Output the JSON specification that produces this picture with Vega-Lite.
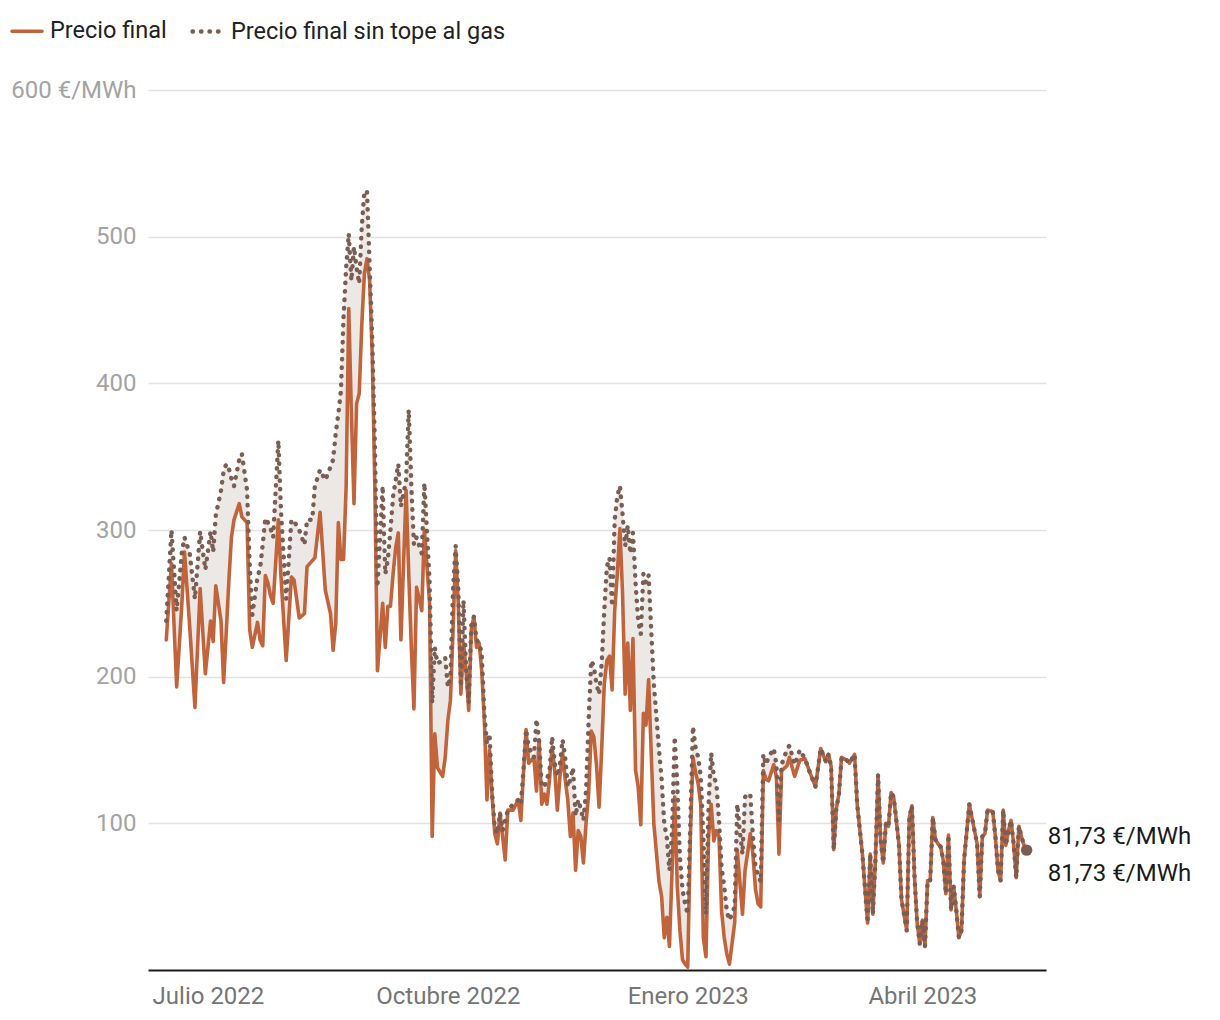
{
  "$schema": "https://vega.github.io/schema/vega-lite/v6.json",
  "autosize": {"type": "none"},
  "padding": {"left": 148, "top": 90, "right": 174, "bottom": 50},
  "width": 898,
  "height": 880,
  "background": "white",
  "config": {"font": "Roboto", "view": {"stroke": null}},
  "data": {"values": [
    {"d":"2022-06-15","f":225,"s":238},{"d":"2022-06-17","f":277,"s":300},{"d":"2022-06-19","f":193,"s":245},{"d":"2022-06-21","f":250,"s":285},{"d":"2022-06-22","f":285,"s":295},{"d":"2022-06-24","f":234,"s":284},{"d":"2022-06-26","f":179,"s":253},{"d":"2022-06-28","f":260,"s":299},{"d":"2022-06-30","f":202,"s":273},
    {"d":"2022-07-02","f":238,"s":299},{"d":"2022-07-03","f":224,"s":285},{"d":"2022-07-04","f":262,"s":310},{"d":"2022-07-06","f":238,"s":327},{"d":"2022-07-07","f":196,"s":340},{"d":"2022-07-08","f":230,"s":345},{"d":"2022-07-09","f":265,"s":342},{"d":"2022-07-10","f":295,"s":335},{"d":"2022-07-11","f":307,"s":330},{"d":"2022-07-13","f":318,"s":348},{"d":"2022-07-14","f":309,"s":352},{"d":"2022-07-16","f":305,"s":327},{"d":"2022-07-17","f":232,"s":277},{"d":"2022-07-18","f":220,"s":242},{"d":"2022-07-20","f":237,"s":268},{"d":"2022-07-21","f":225,"s":274},{"d":"2022-07-22","f":221,"s":290},{"d":"2022-07-23","f":269,"s":308},{"d":"2022-07-24","f":264,"s":305},{"d":"2022-07-25","f":255,"s":301},{"d":"2022-07-26","f":250,"s":295},{"d":"2022-07-28","f":307,"s":361},{"d":"2022-07-29","f":268,"s":313},{"d":"2022-07-31","f":211,"s":253},
    {"d":"2022-08-02","f":268,"s":307},{"d":"2022-08-03","f":266,"s":306},{"d":"2022-08-05","f":240,"s":300},{"d":"2022-08-07","f":243,"s":290},{"d":"2022-08-08","f":275,"s":307},{"d":"2022-08-10","f":279,"s":307},{"d":"2022-08-11","f":281,"s":330},{"d":"2022-08-13","f":312,"s":341},{"d":"2022-08-15","f":259,"s":334},{"d":"2022-08-17","f":243,"s":343},{"d":"2022-08-18","f":218,"s":348},{"d":"2022-08-19","f":236,"s":366},{"d":"2022-08-20","f":305,"s":379},{"d":"2022-08-21","f":280,"s":395},{"d":"2022-08-22","f":280,"s":445},{"d":"2022-08-23","f":330,"s":479},{"d":"2022-08-24","f":451,"s":502},{"d":"2022-08-25","f":380,"s":470},{"d":"2022-08-26","f":318,"s":493},{"d":"2022-08-27","f":386,"s":479},{"d":"2022-08-28","f":393,"s":468},{"d":"2022-08-29","f":440,"s":507},{"d":"2022-08-30","f":475,"s":531},{"d":"2022-08-31","f":485,"s":531},
    {"d":"2022-09-01","f":470,"s":480},{"d":"2022-09-02","f":420,"s":430},{"d":"2022-09-03","f":330,"s":360},{"d":"2022-09-04","f":204,"s":261},{"d":"2022-09-06","f":250,"s":330},{"d":"2022-09-07","f":220,"s":270},{"d":"2022-09-08","f":248,"s":280},{"d":"2022-09-09","f":248,"s":300},{"d":"2022-09-10","f":270,"s":323},{"d":"2022-09-11","f":288,"s":334},{"d":"2022-09-12","f":298,"s":345},{"d":"2022-09-13","f":225,"s":316},{"d":"2022-09-15","f":327,"s":334},{"d":"2022-09-16","f":270,"s":382},{"d":"2022-09-17","f":220,"s":330},{"d":"2022-09-18","f":178,"s":290},{"d":"2022-09-19","f":261,"s":295},{"d":"2022-09-21","f":245,"s":284},{"d":"2022-09-22","f":300,"s":332},{"d":"2022-09-24","f":250,"s":265},{"d":"2022-09-25","f":91,"s":182},{"d":"2022-09-26","f":161,"s":220},{"d":"2022-09-27","f":138,"s":209},{"d":"2022-09-29","f":132,"s":211},{"d":"2022-09-30","f":145,"s":213},
    {"d":"2022-10-01","f":170,"s":193},{"d":"2022-10-02","f":184,"s":200},{"d":"2022-10-03","f":232,"s":260},{"d":"2022-10-04","f":286,"s":289},{"d":"2022-10-05","f":250,"s":260},{"d":"2022-10-06","f":188,"s":193},{"d":"2022-10-07","f":223,"s":252},{"d":"2022-10-08","f":204,"s":205},{"d":"2022-10-09","f":177,"s":182},{"d":"2022-10-10","f":232,"s":235},{"d":"2022-10-11","f":241,"s":241},{"d":"2022-10-12","f":220,"s":225},{"d":"2022-10-13","f":223,"s":223},{"d":"2022-10-14","f":204,"s":216},{"d":"2022-10-15","f":170,"s":175},{"d":"2022-10-16","f":116,"s":154},{"d":"2022-10-17","f":150,"s":161},{"d":"2022-10-18","f":118,"s":120},{"d":"2022-10-19","f":93,"s":97},{"d":"2022-10-20","f":86,"s":93},{"d":"2022-10-21","f":107,"s":107},{"d":"2022-10-22","f":91,"s":95},{"d":"2022-10-23","f":75,"s":102},{"d":"2022-10-24","f":109,"s":109},{"d":"2022-10-26","f":109,"s":113},{"d":"2022-10-28","f":116,"s":116},{"d":"2022-10-29","f":102,"s":113},{"d":"2022-10-30","f":134,"s":136},{"d":"2022-10-31","f":164,"s":164},
    {"d":"2022-11-01","f":141,"s":152},{"d":"2022-11-03","f":145,"s":145},{"d":"2022-11-04","f":122,"s":171},{"d":"2022-11-05","f":157,"s":157},{"d":"2022-11-06","f":113,"s":125},{"d":"2022-11-07","f":120,"s":125},{"d":"2022-11-08","f":113,"s":130},{"d":"2022-11-09","f":130,"s":136},{"d":"2022-11-10","f":152,"s":159},{"d":"2022-11-11","f":136,"s":141},{"d":"2022-11-12","f":109,"s":132},{"d":"2022-11-13","f":132,"s":140},{"d":"2022-11-14","f":148,"s":157},{"d":"2022-11-15","f":130,"s":145},{"d":"2022-11-16","f":116,"s":125},{"d":"2022-11-17","f":91,"s":130},{"d":"2022-11-18","f":107,"s":138},{"d":"2022-11-19","f":68,"s":105},{"d":"2022-11-20","f":95,"s":116},{"d":"2022-11-21","f":91,"s":110},{"d":"2022-11-22","f":73,"s":102},{"d":"2022-11-23","f":100,"s":122},{"d":"2022-11-24","f":120,"s":170},{"d":"2022-11-25","f":163,"s":211},{"d":"2022-11-26","f":159,"s":207},{"d":"2022-11-27","f":140,"s":195},{"d":"2022-11-28","f":111,"s":188},{"d":"2022-11-29","f":150,"s":209},{"d":"2022-11-30","f":195,"s":245},
    {"d":"2022-12-01","f":211,"s":275},{"d":"2022-12-02","f":214,"s":281},{"d":"2022-12-03","f":191,"s":248},{"d":"2022-12-04","f":245,"s":307},{"d":"2022-12-05","f":270,"s":323},{"d":"2022-12-06","f":301,"s":330},{"d":"2022-12-07","f":257,"s":311},{"d":"2022-12-08","f":188,"s":289},{"d":"2022-12-09","f":223,"s":303},{"d":"2022-12-10","f":177,"s":284},{"d":"2022-12-11","f":226,"s":298},{"d":"2022-12-12","f":136,"s":264},{"d":"2022-12-13","f":125,"s":238},{"d":"2022-12-14","f":99,"s":229},{"d":"2022-12-15","f":175,"s":270},{"d":"2022-12-16","f":167,"s":264},{"d":"2022-12-17","f":198,"s":269},{"d":"2022-12-18","f":148,"s":232},{"d":"2022-12-19","f":100,"s":195},{"d":"2022-12-20","f":80,"s":173},{"d":"2022-12-21","f":60,"s":150},{"d":"2022-12-22","f":50,"s":130},{"d":"2022-12-23","f":22,"s":100},{"d":"2022-12-24","f":36,"s":90},{"d":"2022-12-25","f":16,"s":68},{"d":"2022-12-26","f":68,"s":95},{"d":"2022-12-27","f":118,"s":159},{"d":"2022-12-28","f":57,"s":127},{"d":"2022-12-29","f":27,"s":77},{"d":"2022-12-30","f":7,"s":55},{"d":"2022-12-31","f":4,"s":45},
    {"d":"2023-01-01","f":2,"s":38},{"d":"2023-01-02","f":90,"s":100},{"d":"2023-01-03","f":145,"s":166},{"d":"2023-01-04","f":135,"s":152},{"d":"2023-01-05","f":127,"s":145},{"d":"2023-01-06","f":113,"s":132},{"d":"2023-01-07","f":22,"s":91},{"d":"2023-01-08","f":9,"s":38},{"d":"2023-01-09","f":91,"s":113},{"d":"2023-01-10","f":113,"s":148},{"d":"2023-01-11","f":88,"s":132},{"d":"2023-01-12","f":95,"s":127},{"d":"2023-01-13","f":91,"s":102},{"d":"2023-01-14","f":40,"s":70},{"d":"2023-01-15","f":22,"s":57},{"d":"2023-01-16","f":11,"s":40},{"d":"2023-01-17","f":4,"s":34},{"d":"2023-01-19","f":32,"s":43},{"d":"2023-01-20","f":82,"s":113},{"d":"2023-01-21","f":60,"s":95},{"d":"2023-01-22","f":38,"s":79},{"d":"2023-01-23","f":68,"s":118},{"d":"2023-01-24","f":80,"s":120},{"d":"2023-01-25","f":93,"s":120},{"d":"2023-01-26","f":79,"s":91},{"d":"2023-01-27","f":55,"s":70},{"d":"2023-01-28","f":45,"s":65},{"d":"2023-01-29","f":43,"s":60},{"d":"2023-01-30","f":136,"s":147},{"d":"2023-01-31","f":130,"s":140},
    {"d":"2023-02-01","f":129,"s":145},{"d":"2023-02-03","f":140,"s":151},{"d":"2023-02-04","f":132,"s":140},{"d":"2023-02-05","f":79,"s":102},{"d":"2023-02-06","f":136,"s":140},{"d":"2023-02-08","f":139,"s":150},{"d":"2023-02-09","f":145,"s":153},{"d":"2023-02-11","f":132,"s":140},{"d":"2023-02-13","f":143,"s":150},{"d":"2023-02-15","f":144,"s":144},{"d":"2023-02-17","f":134,"s":134},{"d":"2023-02-19","f":125,"s":125},{"d":"2023-02-21","f":151,"s":151},{"d":"2023-02-23","f":142,"s":142},{"d":"2023-02-24","f":147,"s":147},{"d":"2023-02-25","f":139,"s":139},{"d":"2023-02-26","f":82,"s":82},{"d":"2023-02-27","f":110,"s":110},{"d":"2023-02-28","f":120,"s":120},
    {"d":"2023-03-01","f":145,"s":145},{"d":"2023-03-03","f":143,"s":143},{"d":"2023-03-04","f":141,"s":141},{"d":"2023-03-06","f":147,"s":147},{"d":"2023-03-07","f":113,"s":113},{"d":"2023-03-09","f":79,"s":79},{"d":"2023-03-11","f":32,"s":32},{"d":"2023-03-12","f":79,"s":79},{"d":"2023-03-13","f":38,"s":38},{"d":"2023-03-14","f":75,"s":75},{"d":"2023-03-15","f":133,"s":133},{"d":"2023-03-16","f":88,"s":88},{"d":"2023-03-17","f":73,"s":73},{"d":"2023-03-18","f":100,"s":100},{"d":"2023-03-19","f":98,"s":98},{"d":"2023-03-20","f":121,"s":121},{"d":"2023-03-21","f":118,"s":118},{"d":"2023-03-23","f":86,"s":86},{"d":"2023-03-24","f":48,"s":48},{"d":"2023-03-26","f":27,"s":27},{"d":"2023-03-27","f":104,"s":104},{"d":"2023-03-28","f":112,"s":112},{"d":"2023-03-29","f":63,"s":63},{"d":"2023-03-30","f":32,"s":32},{"d":"2023-03-31","f":18,"s":18},
    {"d":"2023-04-01","f":34,"s":34},{"d":"2023-04-02","f":16,"s":16},{"d":"2023-04-03","f":61,"s":61},{"d":"2023-04-04","f":61,"s":61},{"d":"2023-04-05","f":104,"s":104},{"d":"2023-04-06","f":89,"s":89},{"d":"2023-04-07","f":86,"s":86},{"d":"2023-04-08","f":84,"s":84},{"d":"2023-04-09","f":75,"s":75},{"d":"2023-04-10","f":52,"s":52},{"d":"2023-04-11","f":92,"s":92},{"d":"2023-04-12","f":41,"s":41},{"d":"2023-04-13","f":57,"s":57},{"d":"2023-04-14","f":41,"s":41},{"d":"2023-04-15","f":22,"s":22},{"d":"2023-04-16","f":27,"s":27},{"d":"2023-04-17","f":75,"s":75},{"d":"2023-04-19","f":113,"s":113},{"d":"2023-04-20","f":104,"s":104},{"d":"2023-04-22","f":86,"s":86},{"d":"2023-04-23","f":50,"s":50},{"d":"2023-04-24","f":91,"s":91},{"d":"2023-04-25","f":93,"s":93},{"d":"2023-04-26","f":109,"s":109},{"d":"2023-04-28","f":108,"s":108},{"d":"2023-04-29","f":91,"s":91},{"d":"2023-04-30","f":68,"s":68},
    {"d":"2023-05-01","f":61,"s":61},{"d":"2023-05-02","f":109,"s":109},{"d":"2023-05-03","f":85,"s":85},{"d":"2023-05-04","f":95,"s":95},{"d":"2023-05-05","f":102,"s":102},{"d":"2023-05-06","f":86,"s":86},{"d":"2023-05-07","f":63,"s":63},{"d":"2023-05-08","f":98,"s":98},{"d":"2023-05-09","f":91,"s":91},{"d":"2023-05-10","f":85,"s":85},{"d":"2023-05-11","f":81.73,"s":81.73}
  ]},
  "encoding": {
    "x": {
      "field": "d", "type": "temporal", "title": null,
      "scale": {"domain": [{"year": 2022, "month": 6, "date": 8}, {"year": 2023, "month": 5, "date": 18, "hours": 10}]},
      "axis": {
        "values": [{"year": 2022, "month": 7, "date": 1}, {"year": 2022, "month": 10, "date": 1}, {"year": 2023, "month": 1, "date": 1}, {"year": 2023, "month": 4, "date": 1}],
        "labelExpr": "['Enero','Febrero','Marzo','Abril','Mayo','Junio','Julio','Agosto','Septiembre','Octubre','Noviembre','Diciembre'][month(datum.value)] + ' ' + year(datum.value)",
        "grid": false, "ticks": false, "domain": true, "domainColor": "#1a1a1a", "domainWidth": 2,
        "labelFontSize": 24, "labelColor": "#757575", "labelPadding": 14, "labelFlush": false, "labelOverlap": false
      }
    }
  },
  "layer": [
    {
      "mark": {"type": "area", "color": "#ece8e5", "opacity": 1},
      "encoding": {
        "y": {
          "field": "s", "type": "quantitative", "title": null,
          "scale": {"domain": [0, 600], "nice": false},
          "axis": {
            "values": [100, 200, 300, 400, 500, 600],
            "labelExpr": "datum.value == 600 ? '600 €/MWh' : datum.label",
            "grid": true, "gridColor": "#e2e2e2", "gridWidth": 1.5,
            "domain": false, "ticks": false, "labelPadding": 12,
            "labelFontSize": 24, "labelColor": "#a3a3a3"
          }
        },
        "y2": {"field": "f"}
      }
    },
    {
      "transform": [{"fold": ["f", "s"], "as": ["serie", "precio"]}],
      "mark": {"type": "line", "strokeCap": "round", "strokeJoin": "round"},
      "encoding": {
        "y": {"field": "precio", "type": "quantitative"},
        "color": {
          "field": "serie", "type": "nominal",
          "scale": {"domain": ["f", "s"], "range": ["#c2643b", "#7b5e53"]},
          "legend": {
            "title": null, "orient": "none", "legendX": -138, "legendY": -76, "direction": "horizontal",
            "labelExpr": "datum.value == 'f' ? 'Precio final' : 'Precio final sin tope al gas'",
            "labelLimit": 0,
            "symbolType": "stroke", "symbolSize": 900, "symbolStrokeWidth": 4,
            "labelFontSize": 23.5, "labelColor": "#222222", "labelOffset": 6, "columnPadding": 16,
            "encode": {"symbols": {"update": {"strokeCap": {"value": "round"}}}}
          }
        },
        "strokeDash": {
          "field": "serie", "type": "nominal",
          "scale": {"domain": ["f", "s"], "range": [[1, 0], [0.5, 8]]},
          "legend": null
        },
        "strokeWidth": {
          "field": "serie", "type": "nominal",
          "scale": {"domain": ["f", "s"], "range": [3.6, 4.4]},
          "legend": null
        }
      }
    },
    {
      "transform": [{"filter": "datum.s == 81.73"}],
      "mark": {"type": "point", "filled": true, "color": "#7b5e53", "size": 130, "opacity": 1},
      "encoding": {"y": {"field": "s", "type": "quantitative"}}
    },
    {
      "transform": [{"filter": "datum.s == 81.73"}, {"calculate": "replace(format(datum.s, '.2f'), '.', ',') + ' €/MWh'", "as": "lab"}],
      "mark": {"type": "text", "align": "left", "baseline": "middle", "dx": 21, "dy": -13, "fontSize": 24, "color": "#1a1a1a"},
      "encoding": {"y": {"field": "s", "type": "quantitative"}, "text": {"field": "lab"}}
    },
    {
      "transform": [{"filter": "datum.f == 81.73"}, {"calculate": "replace(format(datum.f, '.2f'), '.', ',') + ' €/MWh'", "as": "lab"}],
      "mark": {"type": "text", "align": "left", "baseline": "middle", "dx": 21, "dy": 24, "fontSize": 24, "color": "#1a1a1a"},
      "encoding": {"y": {"field": "f", "type": "quantitative"}, "text": {"field": "lab"}}
    }
  ]
}
